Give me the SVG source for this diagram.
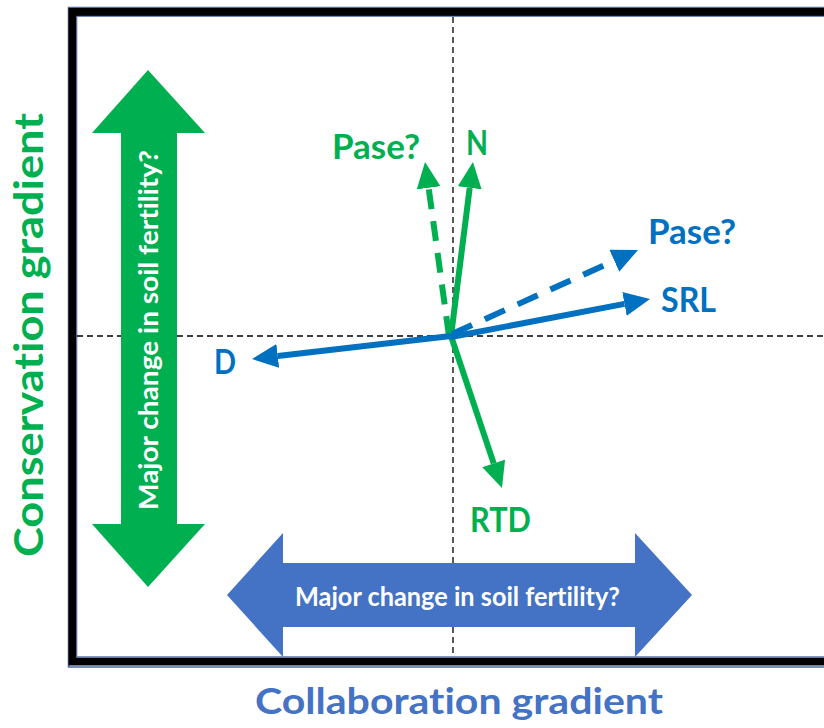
<svg xmlns="http://www.w3.org/2000/svg" width="824" height="728" viewBox="0 0 824 728">
<style>
.lbl{font-family:Lato,"Open Sans","Liberation Sans",sans-serif;font-weight:bold;font-variant-ligatures:none;font-feature-settings:"liga" 0;}
.g{fill:#00B050;}
.b{fill:#0070C0;}
.w{fill:#ffffff;}
.axis{stroke:#000;stroke-width:1.3;stroke-dasharray:6 4;fill:none;}
.ln{fill:none;stroke-width:6;}
.lg{stroke:#00B050;}
.lb{stroke:#0070C0;}
</style>
<defs>
<marker id="hg" viewBox="0 0 26 24" refX="0" refY="12" markerWidth="26" markerHeight="24" markerUnits="userSpaceOnUse" orient="auto"><path d="M0,0 L26,12 L0,24 Z" fill="#00B050"/></marker>
<marker id="hb" viewBox="0 0 26 24" refX="0" refY="12" markerWidth="26" markerHeight="24" markerUnits="userSpaceOnUse" orient="auto"><path d="M0,0 L26,12 L0,24 Z" fill="#0070C0"/></marker>
</defs>
<rect width="824" height="728" fill="#fff"/>
<g id="frame">
<rect x="68.5" y="7.5" width="800" height="659.5" fill="none" stroke="#4A6AA5" stroke-width="1.5"/>
<rect x="72.5" y="12" width="800" height="649.5" fill="none" stroke="#000" stroke-width="8"/>
<rect x="76.8" y="16.3" width="800" height="640.5" fill="none" stroke="#4A6AA5" stroke-width="1"/>
</g>
<g id="axes">
<line class="axis" x1="453" y1="17" x2="453" y2="656"/>
<line class="axis" x1="77" y1="336" x2="824" y2="336"/>
</g>
<g id="vertical-arrow">
<polygon points="148,70 205,133 177,133 177,524 205,524 148,587 92,524 121,524 121,133 92,133" fill="#00B050"/>
<text class="lbl w" font-size="26" transform="translate(158,510) rotate(-90)" textLength="360" lengthAdjust="spacingAndGlyphs">Major change in soil fertility?</text>
</g>
<g id="horizontal-arrow">
<polygon points="227,595 283,533 283,563 635,563 635,533 692,595 635,657 635,627 283,627 283,657" fill="#4472C4"/>
<text class="lbl w" font-size="26" x="295" y="606" textLength="325" lengthAdjust="spacingAndGlyphs">Major change in soil fertility?</text>
</g>
<g id="connectors">
<line class="ln lg" x1="449" y1="336" x2="428.6" y2="187.8" stroke-dasharray="20 12" marker-end="url(#hg)"/>
<line class="ln lg" x1="451" y1="336" x2="469.7" y2="187.8" marker-end="url(#hg)"/>
<line class="ln lg" x1="451" y1="336" x2="493.7" y2="463.4" marker-end="url(#hg)"/>
<line class="ln lb" x1="452" y1="334" x2="614.3" y2="260.7" stroke-dasharray="22 14" marker-end="url(#hb)"/>
<line class="ln lb" x1="451" y1="337" x2="624.5" y2="303.9" marker-end="url(#hb)"/>
<line class="ln lb" x1="451" y1="336" x2="277.8" y2="356" marker-end="url(#hb)"/>
</g>
<g id="label-pase-green"><text class="lbl g" font-size="35" x="332" y="159" textLength="88" lengthAdjust="spacingAndGlyphs">Pase?</text></g>
<g id="label-n"><text class="lbl g" font-size="34" x="466" y="155" textLength="22" lengthAdjust="spacingAndGlyphs">N</text></g>
<g id="label-pase-blue"><text class="lbl b" font-size="35" x="648" y="244" textLength="88" lengthAdjust="spacingAndGlyphs">Pase?</text></g>
<g id="label-srl"><text class="lbl b" font-size="34" x="661" y="312" textLength="55" lengthAdjust="spacingAndGlyphs">SRL</text></g>
<g id="label-d"><text class="lbl b" font-size="34" x="214" y="374" textLength="22" lengthAdjust="spacingAndGlyphs">D</text></g>
<g id="label-rtd"><text class="lbl g" font-size="34" x="470" y="532" textLength="61" lengthAdjust="spacingAndGlyphs">RTD</text></g>
<g id="title-y"><text class="lbl g" font-size="41" transform="translate(43,557) rotate(-90)" textLength="444" lengthAdjust="spacingAndGlyphs">Conservation gradient</text></g>
<g id="title-x"><text class="lbl" fill="#4472C4" font-size="36" x="255" y="714" textLength="408" lengthAdjust="spacingAndGlyphs">Collaboration gradient</text></g>
</svg>
